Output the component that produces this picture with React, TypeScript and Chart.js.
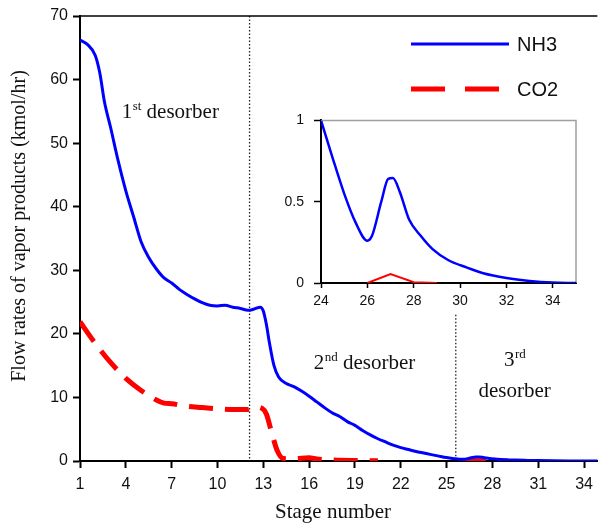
import { useEffect, useRef } from "react";
import { Chart, registerables } from "chart.js";

Chart.register(...registerables);

// Vapour flow of NH3 along the stripping train (kmol/hr per stage)
const nh3Stages = [
  1, 1.5, 2, 2.3, 2.6, 3, 3.5, 4, 4.5, 5, 5.5, 6, 6.5, 7, 7.5, 8, 8.5, 9, 9.5, 10,
  10.5, 11, 11.5, 12, 12.4, 12.8, 13.0, 13.2, 13.4, 13.7, 14.0, 14.5, 15, 15.5, 16,
  16.5, 17, 17.5, 18, 18.5, 19, 19.5, 20, 20.5, 21, 21.5, 22, 22.5, 23, 23.5, 24,
  24.5, 25, 25.5, 26, 26.2, 26.6, 26.9, 27.1, 27.4, 27.8, 28.3, 28.8, 29.5, 30.3,
  31, 32, 33, 34, 35,
];
const nh3Flow = [
  66.2, 65.5, 63.8, 61.0, 56.5, 52.5, 47.2, 42.5, 38.5, 34.5, 32.0, 30.2, 28.8, 28.0,
  27.0, 26.2, 25.5, 24.9, 24.5, 24.4, 24.5, 24.2, 24.0, 23.7, 23.9, 24.2, 23.6, 21.5,
  18.6, 15.0, 13.2, 12.2, 11.7, 11.0, 10.2, 9.3, 8.4, 7.6, 7.0, 6.2, 5.6, 4.8, 4.1,
  3.5, 3.0, 2.5, 2.1, 1.8, 1.5, 1.25, 1.0, 0.77, 0.55, 0.37, 0.26, 0.29, 0.5, 0.64,
  0.645, 0.56, 0.39, 0.29, 0.21, 0.14, 0.095, 0.06, 0.031, 0.013, 0.003, 0,
];

// Vapour flow of CO2 (null breaks the trace)
const co2Stages = [
  1, 2, 3, 4, 5, 6, 6.5, 7, 8, 9, 10, 11, 12, 12.5, 12.9, 13.2, 13.5, 13.9, 14.3, 15,
  16, 16.5, 17, 18, 19, 20, 20.5, 23, 26, 27, 28, 29,
];
const co2Flow = [
  21.9, 18.5, 15.5, 13.0, 11.1, 9.6, 9.1, 9.0, 8.6, 8.4, 8.2, 8.1, 8.1, 8.5, 8.3, 7.4,
  4.9, 1.7, 0.4, 0.35, 0.5, 0.3, 0.2, 0.12, 0.08, 0.05, 0.04, null, 0, 0.055, 0.005, 0,
];

const seriesNames = ["NH3", "CO2"];
const mainStageTicks = [1, 4, 7, 10, 13, 16, 19, 22, 25, 28, 31, 34];
const mainFlowTicks = [0, 10, 20, 30, 40, 50, 60, 70];
const insetStageTicks = [24, 26, 28, 30, 32, 34];
const insetFlowTicks = [0, 0.5, 1];
const insetFromStage = 24;
const desorberBoundaries = [12.1, 25.6];

const BLUE = "#0000ff";
const RED = "#ff0000";
const SANS = "'Liberation Sans', Arial, sans-serif";
const SERIF = "'Liberation Serif', 'Times New Roman', serif";

type Pt = { x: number; y: number | null };
const toPoints = (xs: number[], ys: (number | null)[], from = -Infinity): Pt[] =>
  xs.map((x, i) => ({ x, y: ys[i] })).filter((p) => p.x >= from);

function drawOrdinal(
  ctx: CanvasRenderingContext2D,
  x: number,
  y: number,
  num: string,
  sup: string,
  rest: string,
  centered = false
) {
  const big = `21px ${SERIF}`;
  const small = `13px ${SERIF}`;
  ctx.font = big;
  const wNum = ctx.measureText(num).width;
  const wRest = rest ? ctx.measureText(rest).width : 0;
  ctx.font = small;
  const wSup = ctx.measureText(sup).width;
  let sx = x;
  if (centered) sx = x - (wNum + wSup + wRest) / 2;
  ctx.textAlign = "left";
  ctx.textBaseline = "alphabetic";
  ctx.fillStyle = "#111";
  ctx.font = big;
  ctx.fillText(num, sx, y);
  ctx.font = small;
  ctx.fillText(sup, sx + wNum + 0.5, y - 8);
  if (rest) {
    ctx.font = big;
    ctx.fillText(rest, sx + wNum + wSup + 0.5, y);
  }
}

const mainDecor = {
  id: "mainDecor",
  beforeDatasetsDraw(chart: any) {
    const { ctx, chartArea, scales } = chart;
    ctx.save();
    ctx.strokeStyle = "#222";
    ctx.lineWidth = 1.3;
    ctx.setLineDash([1.5, 2]);
    const tops = [70, 23];
    desorberBoundaries.forEach((s, i) => {
      const px = scales.x.getPixelForValue(s);
      ctx.beginPath();
      ctx.moveTo(px, scales.y.getPixelForValue(tops[i]));
      ctx.lineTo(px, chartArea.bottom);
      ctx.stroke();
    });
    ctx.restore();
  },
  afterDraw(chart: any) {
    const { ctx, chartArea, scales } = chart;
    const X = (v: number) => scales.x.getPixelForValue(v);
    const Y = (v: number) => scales.y.getPixelForValue(v);
    ctx.save();

    // frame line along the top of the plot
    ctx.strokeStyle = "#000";
    ctx.lineWidth = 1.5;
    ctx.beginPath();
    ctx.moveTo(chartArea.left, chartArea.top);
    ctx.lineTo(chartArea.right, chartArea.top);
    ctx.stroke();

    // legend
    const ds = chart.data.datasets;
    ctx.lineCap = "butt";
    ctx.strokeStyle = ds[0].borderColor;
    ctx.lineWidth = 3;
    ctx.beginPath();
    ctx.moveTo(411, 44);
    ctx.lineTo(509, 44);
    ctx.stroke();
    ctx.strokeStyle = ds[1].borderColor;
    ctx.lineWidth = 5;
    ctx.setLineDash([34, 20]);
    ctx.beginPath();
    ctx.moveTo(411, 89);
    ctx.lineTo(500, 89);
    ctx.stroke();
    ctx.setLineDash([]);
    ctx.fillStyle = "#111";
    ctx.font = `20px ${SANS}`;
    ctx.textAlign = "left";
    ctx.textBaseline = "middle";
    ctx.fillText(ds[0].label, 517, 45);
    ctx.fillText(ds[1].label, 517, 90);

    // section labels
    drawOrdinal(ctx, X(3.73), Y(54), "1", "st", " desorber");
    drawOrdinal(ctx, X(16.3), Y(14.5), "2", "nd", " desorber");
    drawOrdinal(ctx, X(29.45), Y(14.9), "3", "rd", "", true);
    ctx.font = `21px ${SERIF}`;
    ctx.textAlign = "center";
    ctx.textBaseline = "alphabetic";
    ctx.fillText("desorber", X(29.45), Y(10.1));

    // axis titles
    ctx.font = `21px ${SERIF}`;
    ctx.fillText("Stage number", 333, 518);
    ctx.save();
    ctx.translate(20, 226);
    ctx.rotate(-Math.PI / 2);
    ctx.font = `20px ${SERIF}`;
    ctx.textBaseline = "middle";
    ctx.fillText("Flow rates of vapor products (kmol/hr)", 0, 0);
    ctx.restore();

    ctx.restore();
  },
};

const insetDecor = {
  id: "insetDecor",
  beforeDatasetsDraw(chart: any) {
    const { ctx, chartArea } = chart;
    ctx.save();
    ctx.strokeStyle = "#a0a0a0";
    ctx.lineWidth = 1.5;
    ctx.beginPath();
    ctx.moveTo(chartArea.left, chartArea.top);
    ctx.lineTo(chartArea.right, chartArea.top);
    ctx.lineTo(chartArea.right, chartArea.bottom);
    ctx.stroke();
    ctx.restore();
  },
};

export default function App() {
  const mainRef = useRef<HTMLCanvasElement>(null);
  const insetRef = useRef<HTMLCanvasElement>(null);

  useEffect(() => {
    if (!mainRef.current || !insetRef.current) return;

    const main = new Chart(mainRef.current, {
      type: "line",
      data: {
        datasets: [
          {
            label: seriesNames[0],
            data: toPoints(nh3Stages, nh3Flow),
            borderColor: BLUE,
            borderWidth: 3,
            pointRadius: 0,
            cubicInterpolationMode: "monotone",
            fill: false,
          },
          {
            label: seriesNames[1],
            data: toPoints(co2Stages, co2Flow),
            borderColor: RED,
            borderWidth: 5,
            borderDash: [24, 12],
            borderCapStyle: "butt",
            pointRadius: 0,
            cubicInterpolationMode: "monotone",
            spanGaps: false,
            fill: false,
          },
        ],
      } as any,
      options: {
        animation: false,
        responsive: false,
        maintainAspectRatio: false,
        layout: { padding: { top: 16, left: 0, right: 0, bottom: 0 } },
        plugins: { legend: { display: false }, tooltip: { enabled: false } },
        scales: {
          x: {
            type: "linear",
            min: 1,
            max: 34.87,
            afterBuildTicks: (s: any) => {
              s.ticks = mainStageTicks.map((value) => ({ value }));
            },
            afterFit: (s: any) => {
              s.height = 65;
            },
            grid: {
              drawOnChartArea: false,
              drawTicks: true,
              tickLength: 7,
              tickWidth: 2,
              tickColor: "#000",
            },
            border: { display: true, color: "#000", width: 2 },
            ticks: {
              font: { family: SANS, size: 16 },
              color: "#111",
              padding: 7,
              maxRotation: 0,
              autoSkip: false,
            },
          },
          y: {
            min: 0,
            max: 70,
            afterBuildTicks: (s: any) => {
              s.ticks = mainFlowTicks.map((value) => ({ value }));
            },
            afterFit: (s: any) => {
              s.width = 80;
            },
            grid: {
              drawOnChartArea: false,
              drawTicks: true,
              tickLength: 7,
              tickWidth: 2,
              tickColor: "#000",
            },
            border: { display: true, color: "#000", width: 2 },
            ticks: {
              font: { family: SANS, size: 16 },
              color: "#111",
              padding: 5,
            },
          },
        },
      } as any,
      plugins: [mainDecor],
    });

    const inset = new Chart(insetRef.current, {
      type: "line",
      data: {
        datasets: [
          {
            label: seriesNames[0],
            data: toPoints(nh3Stages, nh3Flow, insetFromStage),
            borderColor: BLUE,
            borderWidth: 2.5,
            pointRadius: 0,
            cubicInterpolationMode: "monotone",
            fill: false,
          },
          {
            label: seriesNames[1],
            data: toPoints(co2Stages, co2Flow, insetFromStage),
            borderColor: RED,
            borderWidth: 2,
            pointRadius: 0,
            tension: 0,
            fill: false,
          },
        ],
      } as any,
      options: {
        animation: false,
        responsive: false,
        maintainAspectRatio: false,
        layout: { padding: { top: 10, left: 0, right: 14, bottom: 0 } },
        plugins: { legend: { display: false }, tooltip: { enabled: false } },
        scales: {
          x: {
            type: "linear",
            min: 24,
            max: 35,
            afterBuildTicks: (s: any) => {
              s.ticks = insetStageTicks.map((value) => ({ value }));
            },
            afterFit: (s: any) => {
              s.height = 31;
            },
            grid: {
              drawOnChartArea: false,
              drawTicks: true,
              tickLength: 5,
              tickWidth: 1.5,
              tickColor: "#000",
            },
            border: { display: true, color: "#000", width: 2 },
            ticks: {
              font: { family: SANS, size: 14 },
              color: "#111",
              padding: 5,
              maxRotation: 0,
              autoSkip: false,
            },
          },
          y: {
            min: 0,
            max: 1,
            afterBuildTicks: (s: any) => {
              s.ticks = insetFlowTicks.map((value) => ({ value }));
            },
            afterFit: (s: any) => {
              s.width = 51;
            },
            grid: {
              drawOnChartArea: false,
              drawTicks: true,
              tickLength: 7,
              tickWidth: 1.5,
              tickColor: "#000",
            },
            border: { display: true, color: "#000", width: 2 },
            ticks: {
              font: { family: SANS, size: 14 },
              color: "#111",
              padding: 10,
              callback: (v: any) => String(v),
            },
          },
        },
      } as any,
      plugins: [insetDecor],
    });

    return () => {
      main.destroy();
      inset.destroy();
    };
  }, []);

  return (
    <div
      style={{
        position: "absolute",
        left: 0,
        top: 0,
        width: 600,
        height: 526,
        background: "#fff",
      }}
    >
      <canvas
        ref={mainRef}
        width={600}
        height={526}
        style={{ position: "absolute", left: 0, top: 0, display: "block" }}
      />
      <canvas
        ref={insetRef}
        width={320}
        height={212}
        style={{ position: "absolute", left: 270, top: 102, display: "block" }}
      />
    </div>
  );
}
